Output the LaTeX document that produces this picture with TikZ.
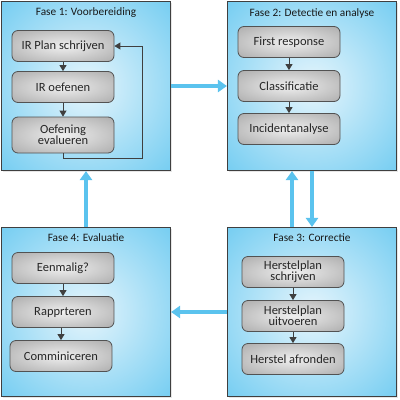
\documentclass[tikz,border=0pt]{standalone}
\usepackage{fontspec}
\setmainfont{Carlito}
\usetikzlibrary{arrows.meta,shadows}

\definecolor{faseblauw}{HTML}{5BC4EF}
\definecolor{faselicht}{HTML}{E6F5FC}
\definecolor{rand}{HTML}{3F3F3F}
\definecolor{pijlblauw}{HTML}{5BC3EE}
\definecolor{staplicht}{HTML}{EFEFEF}
\definecolor{stapdonker}{HTML}{B0B0B0}

\pgfdeclareradialshading{faseglow}{\pgfpoint{0bp}{0bp}}{%
  color(0bp)=(faselicht); color(44bp)=(faseblauw); color(75bp)=(faseblauw)}
\pgfdeclareradialshading{stapglow}{\pgfpoint{0bp}{0bp}}{%
  color(0bp)=(staplicht); color(34bp)=(stapdonker); color(75bp)=(stapdonker)}

\begin{document}
\begin{tikzpicture}[x=1pt, y=-1pt,
    fase/.style={draw=rand, line width=1.1pt, shading=faseglow,
        minimum width=169pt, minimum height=169pt, inner sep=0pt,
        drop shadow={shadow xshift=1.5pt, shadow yshift=-1.5pt, opacity=0.2}},
    titel/.style={font=\fontsize{11.3}{13}\selectfont, text=black!90},
    stap/.style={draw=rand!90, line width=0.8pt, rounded corners=6pt,
        shading=stapglow, minimum width=102pt, minimum height=31pt,
        inner sep=1pt, align=center,
        font=\fontsize{12.5}{13}\selectfont, text=black!85},
    flow/.style={draw=rand, line width=0.9pt, -{Triangle[length=6pt,width=7pt]}},
    grootpijl/.style={draw=pijlblauw, line width=3.5pt,
        -{Triangle[length=9pt,width=12pt]}} ]
    % --- Fase 1 ---
    \node[fase] (f1) at (86, 86) {};
    \node[titel] (t1) at (86, 13) {Fase 1: Voorbereiding};
    \node[stap] (plan) at (63, 46) {IR Plan schrijven};
    \node[stap] (oef) at (63, 87) {IR oefenen};
    \node[stap, minimum height=36pt] (eval) at (63, 135) {Oefening\\[-2pt]evalueren};
    \coordinate (lus) at (142, 158);

    \draw[flow] (plan) -- (oef);
    \draw[flow] (oef) -- (eval);
    \draw[flow] (eval.south) |- (lus) |- (plan.east);

    % --- Fase 2 ---
    \node[fase] (f2) at (312, 86) {};
    \node[titel] (t2) at (312, 13) {Fase 2: Detectie en analyse};
    \node[stap] (first) at (289, 42) {First response};
    \node[stap] (class) at (289, 86) {Classificatie};
    \node[stap] (inc) at (289, 129) {Incidentanalyse};

    \draw[flow] (first) -- (class);
    \draw[flow] (class) -- (inc);

    % --- Fase 3 ---
    \node[fase] (f3) at (312, 312) {};
    \node[titel] (t3) at (312, 238) {Fase 3: Correctie};
    \node[stap] (hschr) at (293, 272) {Herstelplan\\[-2pt]schrijven};
    \node[stap] (huit) at (293, 316) {Herstelplan\\[-2pt]uitvoeren};
    \node[stap] (hafr) at (293, 359) {Herstel afronden};

    \draw[flow] (hschr) -- (huit);
    \draw[flow] (huit) -- (hafr);

    % --- Fase 4 ---
    \node[fase] (f4) at (86, 312) {};
    \node[titel] (t4) at (86, 238) {Fase 4: Evaluatie};
    \node[stap] (eenm) at (63, 268) {Eenmalig?};
    \node[stap] (rapp) at (63, 312) {Rapprteren};
    \node[stap] (comm) at (61, 356) {Comminiceren};

    \draw[flow] (eenm) -- (rapp);
    \draw[flow] (rapp.south -| comm) -- (comm.north);

    % --- Tussen de fasen ---
    \draw[grootpijl] (f1.east) -- (f2.west);
    \draw[grootpijl] ([xshift=-20pt]f3.north) -- ([xshift=-20pt]f2.south);
    \draw[grootpijl] (f2.south) -- (f3.north);
    \draw[grootpijl] (f3.west) -- (f4.east);
    \draw[grootpijl] (f4.north) -- (f1.south);

    % Bounding box
    \useasboundingbox (0, 0) rectangle (400, 400);
\end{tikzpicture}
\end{document}
